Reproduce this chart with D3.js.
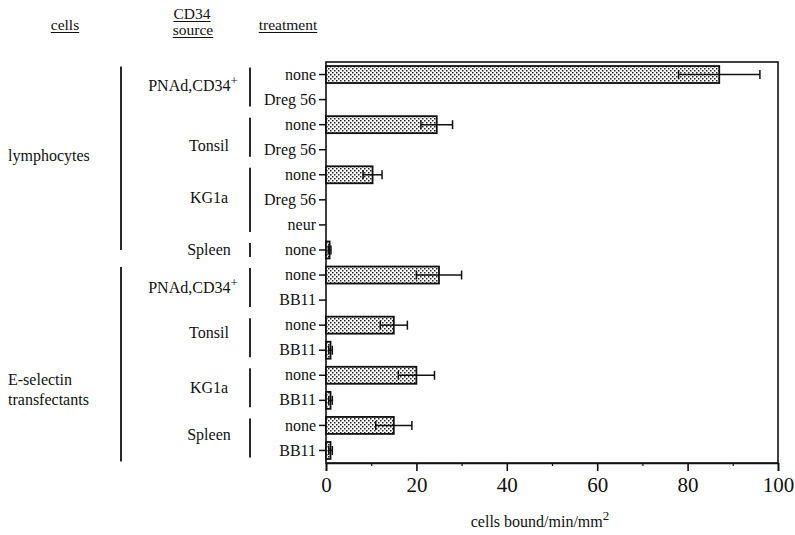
<!DOCTYPE html>
<html>
<head>
<meta charset="utf-8">
<script src="https://cdn.jsdelivr.net/npm/d3@7"></script>
<style>
  body { margin: 0; background: #fff; }
  svg { font-family: "Liberation Serif", "DejaVu Serif", serif; }
</style>
</head>
<body>
<svg id="chart" width="795" height="535"></svg>
<script>
// rows of the chart, top to bottom
var treatments = ['none', 'Dreg 56', 'none', 'Dreg 56', 'none', 'Dreg 56', 'neur', 'none',
  'none', 'BB11', 'none', 'BB11', 'none', 'BB11', 'none', 'BB11']
var means = [87, 0, 24.5, 0, 10.3, 0, 0, 0.8, 25, 0, 15, 1, 20, 1, 15, 1]
var errors = [9, 0, 3.5, 0, 2.1, 0, 0, 0.3, 5, 0, 3, 0.4, 4, 0.4, 4, 0.4]
// CD34 source groups and how many rows each spans
var sourceNames = ['PNAd,CD34', 'Tonsil', 'KG1a', 'Spleen', 'PNAd,CD34', 'Tonsil', 'KG1a', 'Spleen']
var sourceRows = [2, 2, 3, 1, 2, 2, 2, 2]
// cell groups and how many rows each spans
var cellNames = [['lymphocytes'], ['E-selectin', 'transfectants']]
var cellRows = [8, 8]
var xTicks = [0, 20, 40, 60, 80, 100]
var xMinorTicks = [10, 30, 50, 70, 90]

var svg = d3.select('#chart')
// note: "top" is taken by window.top, so use plot* names
var plotLeft = 326, plotRight = 778, plotTop = 62, plotBottom = 463

var x = d3.scaleLinear().domain([0, 100]).range([plotLeft, plotRight])
var y = d3.scaleBand().domain(d3.range(treatments.length)).range([plotTop, plotBottom])
var barH = 17
function mid(i) { return y(i) + y.bandwidth() / 2 }

// stipple pattern for the bars
var pat = svg.append('defs').append('pattern')
  .attr('id', 'dots').attr('patternUnits', 'userSpaceOnUse')
  .attr('width', 4).attr('height', 4)
pat.append('rect').attr('width', 4).attr('height', 4).attr('fill', '#fff')
pat.append('rect').attr('x', 0).attr('y', 0).attr('width', 1.5).attr('height', 1.5).attr('fill', '#222')
pat.append('rect').attr('x', 2).attr('y', 2).attr('width', 1.5).attr('height', 1.5).attr('fill', '#222')

// frame
svg.append('rect')
  .attr('x', plotLeft).attr('y', plotTop)
  .attr('width', plotRight - plotLeft).attr('height', plotBottom - plotTop)
  .attr('fill', 'none').attr('stroke', '#111').attr('stroke-width', 1.6)

// x axis
var xAxis = svg.append('g')
  .attr('transform', 'translate(0,' + plotBottom + ')')
  .call(d3.axisBottom(x).tickValues(xTicks).tickSize(8).tickPadding(6))
xAxis.select('.domain').attr('stroke', '#111').attr('stroke-width', 1.6)
xAxis.selectAll('.tick line').attr('stroke', '#111').attr('stroke-width', 1.6)
xAxis.selectAll('text').attr('font-size', 21).attr('fill', '#111')
  .attr('font-family', '"Liberation Serif", serif')
svg.append('g')
  .attr('transform', 'translate(0,' + plotBottom + ')')
  .call(d3.axisBottom(x).tickValues(xMinorTicks).tickSize(3).tickFormat(''))
  .call(function(g) { g.select('.domain').remove() })
  .selectAll('line').attr('stroke', '#111').attr('stroke-width', 1.2)

// y axis with treatment labels
var yAxis = svg.append('g')
  .attr('transform', 'translate(' + plotLeft + ',0)')
  .call(d3.axisLeft(y).tickSize(7).tickPadding(3).tickFormat(function(i) { return treatments[i] }))
yAxis.select('.domain').remove()
yAxis.selectAll('.tick line').attr('stroke', '#111').attr('stroke-width', 1.5)
yAxis.selectAll('text').attr('font-size', 16).attr('fill', '#111')
  .attr('font-family', '"Liberation Serif", serif')

// bars
var rows = d3.range(treatments.length).filter(function(i) { return means[i] > 0 })
svg.selectAll('.bar').data(rows).enter().append('rect')
  .attr('class', 'bar')
  .attr('x', x(0))
  .attr('y', function(i) { return mid(i) - barH / 2 })
  .attr('width', function(i) { return x(means[i]) - x(0) })
  .attr('height', barH)
  .attr('fill', 'url(#dots)')
  .attr('stroke', '#111').attr('stroke-width', 1.8)

// error bars
var eb = svg.selectAll('.err').data(rows.filter(function(i) { return errors[i] > 0 })).enter()
  .append('g').attr('class', 'err')
  .attr('stroke', '#111').attr('stroke-width', 1.5)
eb.append('line')
  .attr('x1', function(i) { return x(means[i] - errors[i]) })
  .attr('x2', function(i) { return x(means[i] + errors[i]) })
  .attr('y1', mid)
  .attr('y2', mid)
eb.selectAll('.cap').data(function(i) { return [[i, -1], [i, 1]] }).enter().append('line')
  .attr('x1', function(d) { return x(means[d[0]] + d[1] * errors[d[0]]) })
  .attr('x2', function(d) { return x(means[d[0]] + d[1] * errors[d[0]]) })
  .attr('y1', function(d) { return mid(d[0]) - 4.5 })
  .attr('y2', function(d) { return mid(d[0]) + 4.5 })

// CD34 source brackets and labels
var sourceShift = [-2, 8, -2, 0, 0, -5, 0, -3]
var start = 0
sourceNames.forEach(function(name, k) {
  var first = start, last = start + sourceRows[k] - 1
  start += sourceRows[k]
  svg.append('line')
    .attr('x1', 250).attr('x2', 250)
    .attr('y1', mid(first) - 7).attr('y2', mid(last) + 7)
    .attr('stroke', '#111').attr('stroke-width', 1.8)
  var cy = (mid(first) + mid(last)) / 2 + sourceShift[k]
  var isPNAd = name.indexOf('PNAd') === 0
  var t = svg.append('text')
    .attr('x', isPNAd ? 193 : 209)
    .attr('y', cy + 5.5)
    .attr('text-anchor', 'middle').attr('font-size', 16).attr('fill', '#111')
  t.append('tspan').text(name)
  if (isPNAd) {
    t.append('tspan').attr('font-size', 13).attr('dy', -6).text('+')
  }
})

// cell groups
var cellLineEnd = [0, 11]
var cellShift = [-3, 25]
start = 0
cellNames.forEach(function(lines, k) {
  var first = start, last = start + cellRows[k] - 1
  start += cellRows[k]
  var y0 = mid(first) - 8
  var y1 = mid(last) + cellLineEnd[k]
  svg.append('line')
    .attr('x1', 121).attr('x2', 121).attr('y1', y0).attr('y2', y1)
    .attr('stroke', '#111').attr('stroke-width', 1.8)
  var cy = (y0 + y1) / 2 + cellShift[k] - (lines.length - 1) * 10
  lines.forEach(function(s, j) {
    svg.append('text')
      .attr('x', 8).attr('y', cy + 5.5 + j * 20)
      .attr('font-size', 16).attr('fill', '#111').text(s)
  })
})

// underlined column headers
var headers = [['cells', 65, 30], ['CD34', 192, 19], ['source', 193, 35], ['treatment', 288, 30]]
headers.forEach(function(h) {
  var t = svg.append('text')
    .attr('x', h[1]).attr('y', h[2]).attr('text-anchor', 'middle')
    .attr('font-size', 15.5).attr('fill', '#111').text(h[0])
  var w = t.node().getComputedTextLength()
  svg.append('line')
    .attr('x1', h[1] - w / 2).attr('x2', h[1] + w / 2)
    .attr('y1', h[2] + 2.5).attr('y2', h[2] + 2.5)
    .attr('stroke', '#111').attr('stroke-width', 1)
})

// x axis title
var xt = svg.append('text')
  .attr('x', 540).attr('y', 527).attr('text-anchor', 'middle')
  .attr('font-size', 16).attr('fill', '#111')
xt.append('tspan').text('cells bound/min/mm')
xt.append('tspan').attr('font-size', 13).attr('dy', -7).text('2')
</script>
</body>
</html>
